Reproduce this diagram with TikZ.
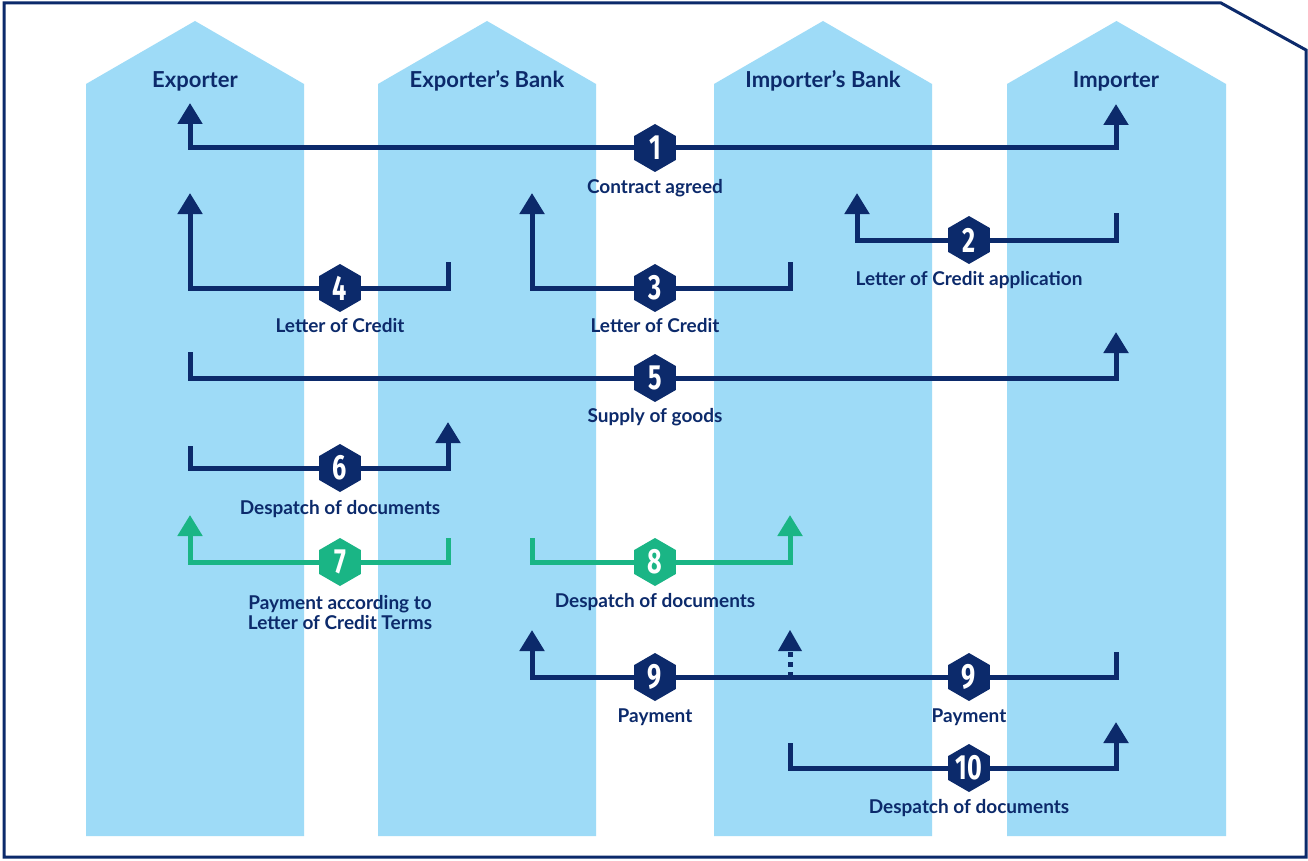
\documentclass[tikz,border=0pt]{standalone}
\usepackage{fontspec}
\setmainfont{Lato}
\newfontfamily\digitfont{Fira Sans}
\usetikzlibrary{shapes.geometric,arrows.meta}
\definecolor{navy}{HTML}{0C2A6B}
\definecolor{sky}{HTML}{9EDBF7}
\definecolor{teal}{HTML}{1AB585}
\tikzset{
  colshape/.style={fill=sky,draw=none},
  conn/.style={draw=navy,line width=5pt},
  grn/.style={draw=teal,line width=5pt},
  tipped/.style={-{Triangle[width=24pt,length=21pt]}},
  badge/.style={regular polygon,regular polygon sides=6,shape border rotate=30,minimum size=48pt,inner sep=0pt,fill=navy,text=white,font=\digitfont\bfseries\fontsize{35}{35}\selectfont},
  gbadge/.style={badge,fill=teal},
  lbl/.style={text=navy,font=\bfseries\fontsize{19}{20}\selectfont,align=center,inner sep=0pt},
  ttl/.style={text=navy,font=\bfseries\fontsize{22}{24}\selectfont,inner sep=0pt},
}
\newcommand{\dg}[1]{\scalebox{0.72}[1]{#1}}
\begin{document}
\begin{tikzpicture}[x=1pt,y=-1pt]
\useasboundingbox (0,0) rectangle (1308,861);
\fill[white] (0,0) rectangle (1308,861);
% frame
\draw[navy,line width=3pt] (4,3) -- (1221,3) -- (1306,50) -- (1306,857) -- (4,857) -- cycle;
% columns
\foreach \l/\r in {86/304,378/596,714/932,1007/1226}{
  \fill[sky] (\l,836) -- (\l,84) -- ({(\l+\r)/2},21) -- (\r,84) -- (\r,836) -- cycle;
}
% titles
\node[ttl] (t1) at (195,81) {Exporter};
\node[ttl] (t2) at (487,81) {Exporter’s Bank};
\node[ttl] (t3) at (823,81) {Importer’s Bank};
\node[ttl] (t4) at (1116,81) {Importer};
% coordinates
\coordinate (a1L) at (190,103); \coordinate (a1R) at (1116,104);
\coordinate (a2L) at (857,193); \coordinate (a2R) at (1116,213);
\coordinate (a3L) at (532,193); \coordinate (a3R) at (790,262);
\coordinate (a4L) at (190,193); \coordinate (a4R) at (448,262);
\coordinate (a5L) at (190,352); \coordinate (a5R) at (1116,332);
\coordinate (a6L) at (190,446); \coordinate (a6R) at (448,422);
\coordinate (a7L) at (190,515); \coordinate (a7R) at (448,538);
\coordinate (a8L) at (532,538); \coordinate (a8R) at (790,515);
\coordinate (a9L) at (532,630); \coordinate (a9M) at (790,630); \coordinate (a9R) at (1116,652);
\coordinate (a10L) at (790,743); \coordinate (a10R) at (1116,722);
\coordinate (h1) at (655,148);
\coordinate (h2) at (969,240);
\coordinate (h3) at (655,288);
\coordinate (h4) at (340,288);
\coordinate (h5) at (655,378);
\coordinate (h6) at (340,468);
\coordinate (h7) at (340,562);
\coordinate (h8) at (655,562);
\coordinate (h9a) at (655,677);
\coordinate (h9b) at (969,677);
\coordinate (h10) at (969,768);
% connectors
\draw[conn,tipped] (h1) -| (a1L);
\draw[conn,tipped] (h1) -| (a1R);
\draw[conn,tipped] (h2) -| (a2L);
\draw[conn] (h2) -| (a2R);
\draw[conn,tipped] (h3) -| (a3L);
\draw[conn] (h3) -| (a3R);
\draw[conn,tipped] (h4) -| (a4L);
\draw[conn] (h4) -| (a4R);
\draw[conn] (h5) -| (a5L);
\draw[conn,tipped] (h5) -| (a5R);
\draw[conn] (h6) -| (a6L);
\draw[conn,tipped] (h6) -| (a6R);
\draw[grn,tipped] (h7) -| (a7L);
\draw[grn] (h7) -| (a7R);
\draw[grn] (h8) -| (a8L);
\draw[grn,tipped] (h8) -| (a8R);
\draw[conn,tipped] (h9a) -| (a9L);
\draw[conn] (h9a) -- (h9b);
\draw[conn] (h9b) -| (a9R);
\draw[conn,dash pattern=on 5pt off 5pt] (h9b -| a9M) -- ([yshift=-21pt]a9M);
\fill[navy] (a9M) -- ++(-12,21) -- ++(24,0) -- cycle;
\draw[conn] (h10) -| (a10L);
\draw[conn,tipped] (h10) -| (a10R);
% badges
\node[badge] (b1) at (h1) {\dg{1}};
\node[badge] (b2) at (h2) {\dg{2}};
\node[badge] (b3) at (h3) {\dg{3}};
\node[badge] (b4) at (h4) {\dg{4}};
\node[badge] (b5) at (h5) {\dg{5}};
\node[badge] (b6) at (h6) {\dg{6}};
\node[gbadge] (b7) at (h7) {\dg{7}};
\node[gbadge] (b8) at (h8) {\dg{8}};
\node[badge] (b9a) at (h9a) {\dg{9}};
\node[badge] (b9b) at (h9b) {\dg{9}};
\node[badge] (b10) at (h10) {\dg{10}};
% labels
\node[lbl] (l1) at (655,188) {Contract agreed};
\node[lbl] (l2) at (969,280) {Letter of Credit application};
\node[lbl] (l3) at (655,326) {Letter of Credit};
\node[lbl] (l4) at (340,326) {Letter of Credit};
\node[lbl] (l5) at (655,417) {Supply of goods};
\node[lbl] (l6) at (340,509) {Despatch of documents};
\node[lbl] (l7) at (340,613) {Payment according to\\Letter of Credit Terms};
\node[lbl] (l8) at (655,602) {Despatch of documents};
\node[lbl] (l9a) at (655,717) {Payment};
\node[lbl] (l9b) at (969,717) {Payment};
\node[lbl] (l10) at (969,808) {Despatch of documents};
\end{tikzpicture}
\end{document}
